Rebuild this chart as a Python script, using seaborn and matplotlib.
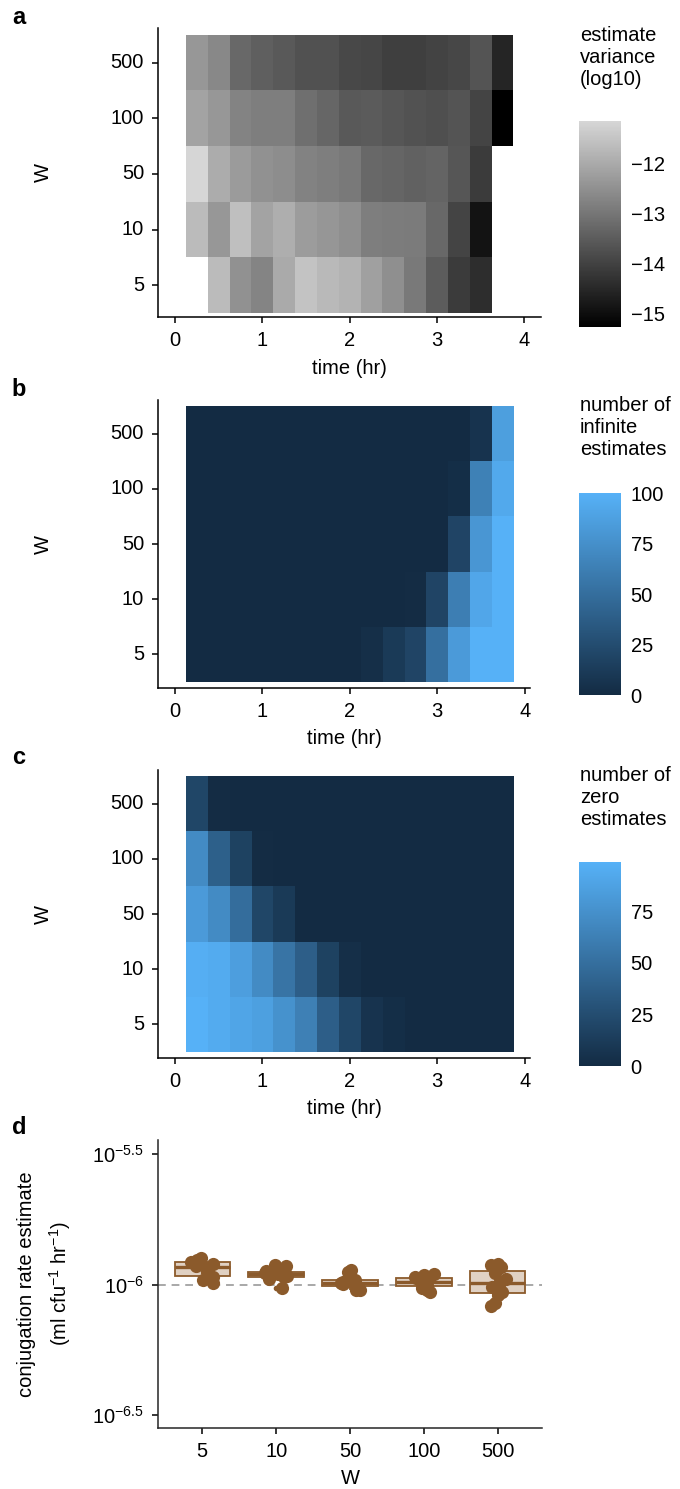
import numpy as np
import pandas as pd
import matplotlib
matplotlib.use("Agg")
import matplotlib.pyplot as plt
import seaborn as sns
from matplotlib.colors import LinearSegmentedColormap
from matplotlib.ticker import FixedLocator, FixedFormatter, NullLocator

nan = np.nan

# categories
w_levels = ["5", "10", "50", "100", "500"]
times = [0.25, 0.5, 0.75, 1.0, 1.25, 1.5, 1.75, 2.0, 2.25, 2.5, 2.75, 3.0, 3.25, 3.5, 3.75]

# panel a: log10 estimate variance
var_w500 = [-12.37, -12.65, -13.26, -13.45, -13.56, -13.71, -13.72, -13.87, -13.92, -14.05, -14.06, -13.98, -13.90, -13.66, -14.55]
var_w100 = [-12.14, -12.37, -12.75, -12.84, -12.85, -13.14, -13.30, -13.56, -13.52, -13.60, -13.68, -13.75, -13.66, -13.96, -15.27]
var_w50 = [-11.15, -11.97, -12.29, -12.48, -12.56, -12.76, -12.84, -12.95, -13.26, -13.33, -13.41, -13.34, -13.60, -14.13, nan]
var_w10 = [-11.68, -12.37, -11.61, -12.14, -11.93, -12.27, -12.38, -12.52, -12.84, -12.88, -12.89, -13.26, -13.96, -14.89, nan]
var_w5 = [nan, -11.68, -12.48, -12.73, -11.99, -11.53, -11.72, -11.83, -12.19, -12.52, -12.95, -13.49, -14.13, -14.40, nan]

# panel b: number of infinite estimates
inf_w500 = [0, 0, 0, 0, 0, 0, 0, 0, 0, 0, 0, 0, 0, 6, 86]
inf_w100 = [0, 0, 0, 0, 0, 0, 0, 0, 0, 0, 0, 0, 2, 64, 94]
inf_w50 = [0, 0, 0, 0, 0, 0, 0, 0, 0, 0, 0, 0, 19, 80, 100]
inf_w10 = [0, 0, 0, 0, 0, 0, 0, 0, 0, 0, 1, 19, 62, 92, 100]
inf_w5 = [0, 0, 0, 0, 0, 0, 0, 0, 3, 11, 19, 51, 83, 100, 100]

# panel c: number of zero estimates
zero_w500 = [20, 1, 0, 0, 0, 0, 0, 0, 0, 0, 0, 0, 0, 0, 0]
zero_w100 = [71, 39, 17, 1, 0, 0, 0, 0, 0, 0, 0, 0, 0, 0, 0]
zero_w50 = [82, 71, 49, 20, 11, 0, 0, 0, 0, 0, 0, 0, 0, 0, 0]
zero_w10 = [97, 94, 85, 71, 54, 38, 17, 3, 0, 0, 0, 0, 0, 0, 0]
zero_w5 = [99, 94, 90, 86, 76, 63, 38, 20, 6, 2, 0, 0, 0, 0, 0]

# panel d: conjugation rate estimates
rate_w5 = [1.014e-6, 1.040e-6, 1.069e-6, 1.119e-6, 1.161e-6, 1.175e-6, 1.202e-6, 1.222e-6, 1.239e-6, 1.265e-6]
rate_w10 = [0.966e-6, 1.047e-6, 1.067e-6, 1.076e-6, 1.091e-6, 1.096e-6, 1.107e-6, 1.114e-6, 1.122e-6, 1.175e-6, 1.186e-6]
rate_w50 = [0.949e-6, 0.951e-6, 0.979e-6, 1.009e-6, 1.014e-6, 1.019e-6, 1.023e-6, 1.042e-6, 1.119e-6, 1.135e-6]
rate_w100 = [1.102e-6, 1.084e-6, 1.072e-6, 1.059e-6, 1.047e-6, 1.028e-6, 1.019e-6, 1.009e-6, 0.989e-6, 0.973e-6, 0.955e-6, 0.933e-6]
rate_w500 = [0.826e-6, 0.851e-6, 0.912e-6, 0.938e-6, 0.977e-6, 1.005e-6, 1.023e-6, 1.054e-6, 1.109e-6, 1.164e-6, 1.186e-6, 1.202e-6]
true_rate = 1e-6

sns.set_theme(style="ticks")
plt.rcParams["font.family"] = ["Liberation Sans", "DejaVu Sans"]
plt.rcParams["mathtext.fontset"] = "custom"
plt.rcParams["mathtext.rm"] = "Liberation Sans"
plt.rcParams["mathtext.it"] = "Liberation Sans:italic"
plt.rcParams["mathtext.bf"] = "Liberation Sans:bold"
plt.rcParams["axes.linewidth"] = 1.1
plt.rcParams["text.color"] = "black"
plt.rcParams["axes.labelcolor"] = "black"
plt.rcParams["xtick.color"] = "black"
plt.rcParams["ytick.color"] = "black"

FS = 14.5
W, H = 680, 1489
fig = plt.figure(figsize=(6.8, 14.89), dpi=100)


def px_rect(left, top, right, bottom):
    return [left / W, 1 - bottom / H, (right - left) / W, (bottom - top) / H]


def make_table(rows):
    # rows listed top to bottom: 500, 100, 50, 10, 5
    return pd.DataFrame(rows, index=w_levels[::-1], columns=times)


def time_to_col(t):
    step = times[1] - times[0]
    return (t - times[0]) / step + 0.5


def style_heat(ax, tmax, ylo, yhi):
    for s in ["left", "bottom"]:
        ax.spines[s].set_visible(True)
        ax.spines[s].set_color("black")
        ax.spines[s].set_linewidth(1.1)
    for s in ["top", "right"]:
        ax.spines[s].set_visible(False)
    ticks = [0, 1, 2, 3, 4]
    ax.set_xticks([time_to_col(t) for t in ticks])
    ax.set_xticklabels([str(t) for t in ticks], rotation=0)
    ax.set_yticks([i + 0.5 for i in range(5)])
    ax.set_yticklabels(w_levels[::-1], rotation=0)
    ax.set_xlim(time_to_col(-0.195), time_to_col(tmax))
    ax.set_ylim(5 + ylo, -yhi)
    ax.tick_params(length=4, width=1.1, pad=6, labelsize=FS, colors="black",
                   left=True, bottom=True)
    ax.set_xlabel("time (hr)", fontsize=FS)
    ax.set_ylabel("W", fontsize=FS)
    ax.xaxis.label.set_va("center")
    ax.yaxis.label.set_va("center")
    ax.yaxis.set_label_coords(-(158 - 43) / (ax.get_position().width * W), 0.5)
    ax.xaxis.set_label_coords(0.5, -51 / (ax.get_position().height * H))


def style_cbar(cax, top, title):
    cax.tick_params(left=True, right=True, direction="in", color="white",
                    length=6, width=0.8, labelsize=FS, pad=7,
                    labelleft=False, labelright=True, labelcolor="black")
    fig.text(580 / W, 1 - top / H, title, ha="left", va="top", fontsize=FS,
             linespacing=1.2)


gray_cmap = LinearSegmentedColormap.from_list("grays", ["#000000", "#d6d6d6"])
blue_cmap = LinearSegmentedColormap.from_list("ggblue", ["#132B43", "#56B1F7"])

# panel a
ax_a = fig.add_axes(px_rect(158, 28, 541, 317))
cax_a = fig.add_axes(px_rect(579, 121, 621, 327))
tab_a = make_table([var_w500, var_w100, var_w50, var_w10, var_w5])
sns.heatmap(tab_a, ax=ax_a, cbar_ax=cax_a, cmap=gray_cmap,
            vmin=-15.27, vmax=-11.15, cbar_kws={"ticks": [-12, -13, -14, -15]})
style_heat(ax_a, 4.19, 0.07, 0.12)
style_cbar(cax_a, 26, "estimate\nvariance\n(log10)")

# panel b
ax_b = fig.add_axes(px_rect(158, 400, 530, 688))
cax_b = fig.add_axes(px_rect(579, 493, 621, 695))
tab_b = make_table([inf_w500, inf_w100, inf_w50, inf_w10, inf_w5])
sns.heatmap(tab_b, ax=ax_b, cbar_ax=cax_b, cmap=blue_cmap,
            vmin=0, vmax=100, cbar_kws={"ticks": [0, 25, 50, 75, 100]})
style_heat(ax_b, 4.06, 0.11, 0.11)
style_cbar(cax_b, 396, "number of\ninfinite\nestimates")

# panel c
ax_c = fig.add_axes(px_rect(158, 770, 530, 1058))
cax_c = fig.add_axes(px_rect(579, 862, 621, 1066))
tab_c = make_table([zero_w500, zero_w100, zero_w50, zero_w10, zero_w5])
sns.heatmap(tab_c, ax=ax_c, cbar_ax=cax_c, cmap=blue_cmap,
            vmin=0, vmax=99, cbar_kws={"ticks": [0, 25, 50, 75]})
style_heat(ax_c, 4.06, 0.11, 0.11)
style_cbar(cax_c, 766, "number of\nzero\nestimates")

# panel d
brown = "#8B5A2B"
box_fill = "#e0d1c3"
rates = [rate_w5, rate_w10, rate_w50, rate_w100, rate_w500]
df_d = pd.DataFrame({
    "W": [w for w, r in zip(w_levels, rates) for _ in r],
    "rate": [v for r in rates for v in r],
})
ax_d = fig.add_axes(px_rect(158, 1140, 542, 1428))
ax_d.axhline(true_rate, color="#a8a8a8", ls=(0, (4, 3)), lw=1.4, zorder=0.5)
sns.boxplot(data=df_d, x="W", y="rate", order=w_levels, ax=ax_d,
            color=box_fill, linecolor=brown, saturation=1, width=0.75,
            linewidth=1.3, showcaps=False, fliersize=3, log_scale=True,
            medianprops={"linewidth": 2.4, "color": brown},
            flierprops={"marker": "o", "markerfacecolor": brown,
                        "markeredgecolor": brown})
np.random.seed(4)
sns.stripplot(data=df_d, x="W", y="rate", order=w_levels, ax=ax_d,
              color=brown, size=9.5, jitter=0.15, linewidth=0, zorder=3)
ax_d.set_yscale("log")
ax_d.set_ylim(10 ** -6.55, 10 ** -5.446)
ax_d.set_xlim(-0.6, 4.6)
ax_d.yaxis.set_major_locator(FixedLocator([10 ** -6.5, 1e-6, 10 ** -5.5]))
ax_d.yaxis.set_major_formatter(FixedFormatter([r"$\mathregular{10^{-6.5}}$",
                                               r"$\mathregular{10^{-6}}$",
                                               r"$\mathregular{10^{-5.5}}$"]))
ax_d.yaxis.set_minor_locator(NullLocator())
sns.despine(ax=ax_d)
ax_d.tick_params(length=4, width=1.1, pad=6, labelsize=FS, colors="black")
ax_d.set_xlabel("W", fontsize=FS)
ax_d.set_ylabel("conjugation rate estimate\n" + r"(ml cfu$^{-1}$ hr$^{-1}$)",
                fontsize=FS, linespacing=1.6)
ax_d.xaxis.label.set_va("center")
ax_d.yaxis.label.set_va("center")
ax_d.yaxis.set_label_coords(-(158 - 45) / 384, 0.5)
ax_d.xaxis.set_label_coords(0.5, -50 / 288)

# panel letters
for letter, y in [("a", 17), ("b", 390), ("c", 757), ("d", 1127)]:
    fig.text(19 / W, 1 - y / H, letter, ha="center", va="center",
             fontsize=17, fontweight="bold")

fig.savefig("out.png", dpi=100)
